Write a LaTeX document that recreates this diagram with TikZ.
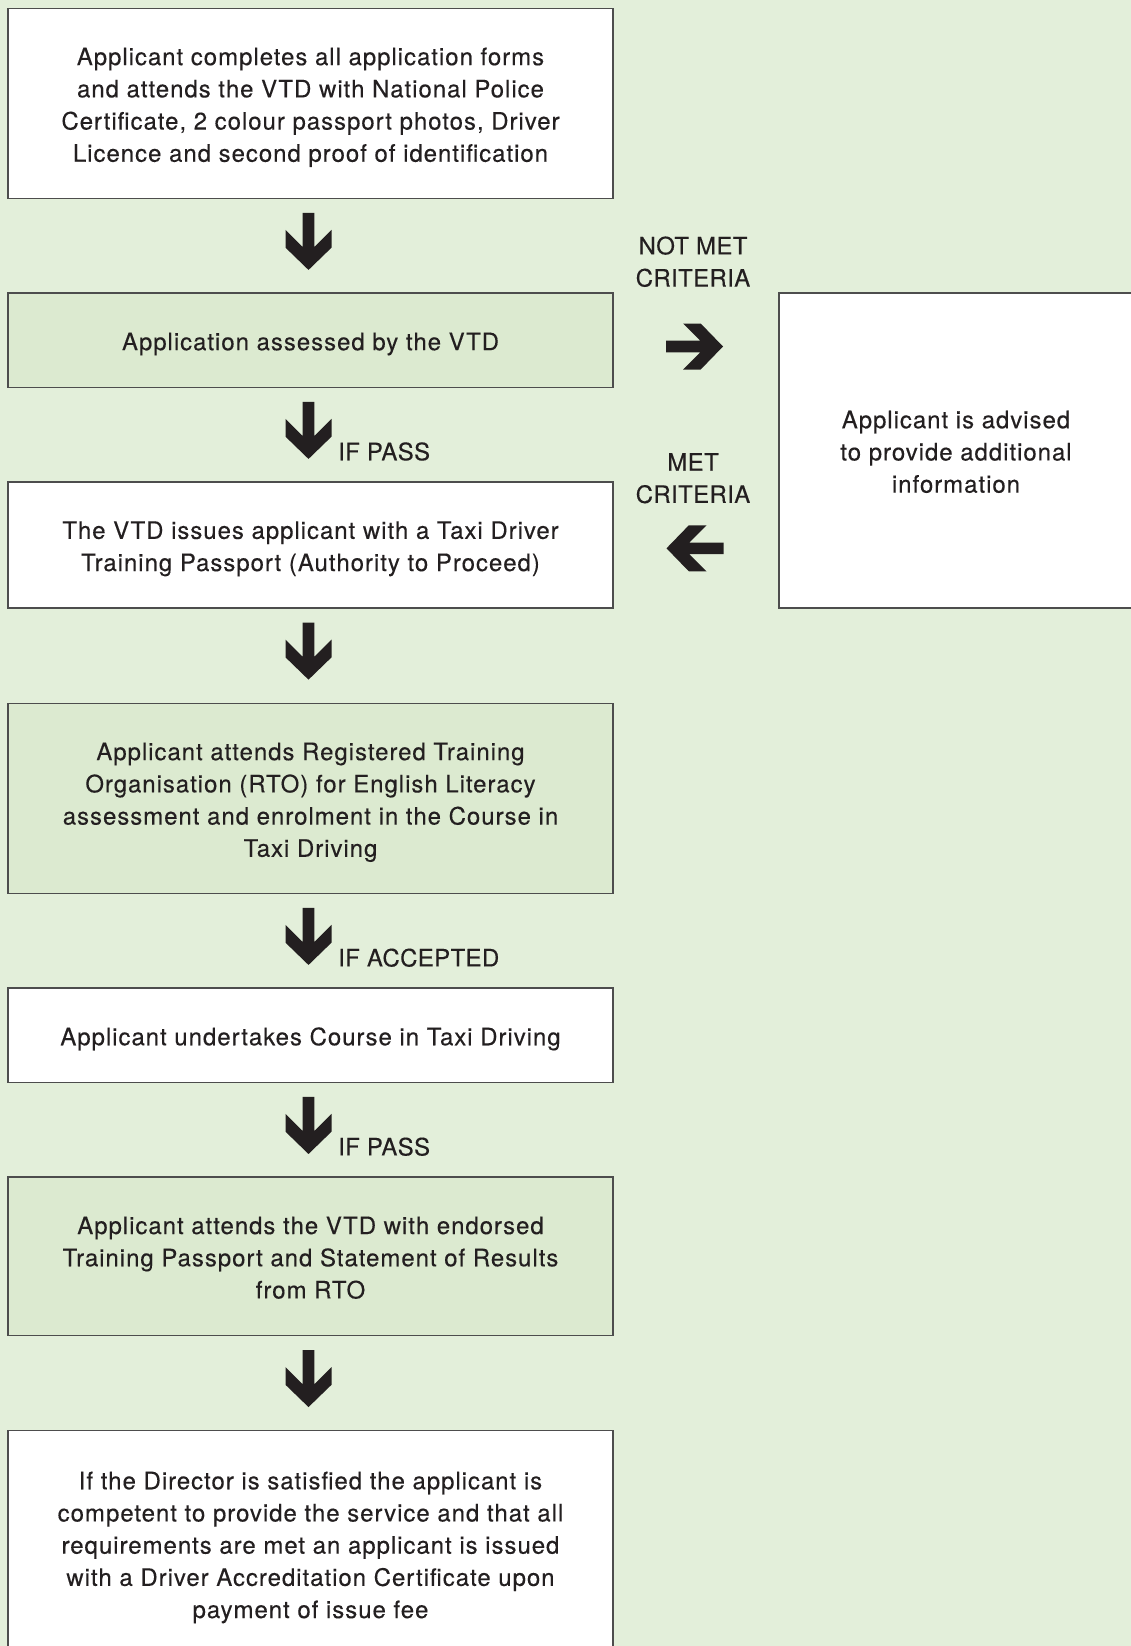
\documentclass[tikz,border=0pt]{standalone}
\usepackage{fontspec}
\setmainfont{TeX Gyre Heros}[LetterSpace=4.0,FakeBold=0.25]
\newfontfamily\lblfont{TeX Gyre Heros}[LetterSpace=1.5,FakeBold=0.25]
\usetikzlibrary{calc}
\definecolor{bgc}{RGB}{227,239,218}
\definecolor{gfill}{RGB}{220,234,208}
\definecolor{bord}{RGB}{77,77,77}
\definecolor{ink}{RGB}{35,31,32}
\newcommand\boxtext[1]{\raisebox{-3.5pt}[\height][\depth]{\begin{tabular}{@{}c@{}}#1\end{tabular}}}
\tikzset{
  box/.style={draw=bord, line width=1.4pt, fill=white, inner sep=0pt, minimum width=605pt, align=center, text=ink,
    font=\fontsize{24}{32.2}\selectfont},
  gbox/.style={box, fill=gfill},
  lbl/.style={inner sep=0pt, text=ink, align=center, font=\lblfont\fontsize{24}{32.2}\selectfont},
  darrow/.pic={\fill[ink] (-5.8,-28.5) -- (5.8,-28.5) -- (5.8,5.7) -- (23,-11.5) -- (23,6.2) -- (0,28.5) -- (-23,6.2) -- (-23,-11.5) -- (-5.8,5.7) -- cycle;}
}
\begin{document}
\begin{tikzpicture}[x=1pt,y=-1pt]
\clip (0,0) rectangle (1131,1646);
\fill[bgc] (0,0) rectangle (1131,1646);
\node[box, minimum height=190pt] (b1) at (310.5,103.5) {\boxtext{Applicant completes all application forms\\and attends the VTD with National Police\\Certificate, 2 colour passport photos, Driver\\Licence and second proof of identification}};
\node[gbox, minimum height=94.5pt] (b2) at (310.5,340.25) {\boxtext{Application assessed by the VTD}};
\node[box, minimum height=126pt] (b3) at (310.5,545) {\boxtext{The VTD issues applicant with a Taxi Driver\\Training Passport (Authority to Proceed)}};
\node[gbox, minimum height=190pt] (b4) at (310.5,798.5) {\boxtext{Applicant attends Registered Training\\Organisation (RTO) for English Literacy\\assessment and enrolment in the Course in\\Taxi Driving}};
\node[box, minimum height=94.6pt] (b5) at (310.5,1035.3) {\boxtext{Applicant undertakes Course in Taxi Driving}};
\node[gbox, minimum height=158.7pt] (b6) at (310.5,1256.3) {\boxtext{Applicant attends the VTD with endorsed\\Training Passport and Statement of Results\\from RTO}};
\node[box, minimum height=226pt] (b7) at (310.5,1543.7) {\boxtext{If the Director is satisfied the applicant is\\competent to provide the service and that all\\requirements are met an applicant is issued\\with a Driver Accreditation Certificate upon\\payment of issue fee}};
\node[box, minimum width=354pt, minimum height=315pt] (rb) at (956,450.5) {\boxtext{Applicant is advised\\to provide additional\\information}};
% vertical arrows
\pic at ($(b1.south)!0.5!(b2.north)+(-2,-4.3)$) {darrow};
\pic at ($(b2.south)!0.5!(b3.north)+(-2,-4.3)$) {darrow};
\pic at ($(b3.south)!0.5!(b4.north)+(-2,-4.6)$) {darrow};
\pic at ($(b4.south)!0.5!(b5.north)+(-2,-4.3)$) {darrow};
\pic at ($(b5.south)!0.5!(b6.north)+(-2,-4.3)$) {darrow};
\pic at ($(b6.south)!0.5!(b7.north)+(-2,-4.6)$) {darrow};
% horizontal arrows
\pic[rotate=90] at ($(b2.east)!0.5!(b2.east -| rb.west)+(-1.5,6.25)$) {darrow};
\pic[rotate=-90] at ($(b3.east)!0.5!(b3.east -| rb.west)+(-1,3.3)$) {darrow};
% labels
\node[lbl] (l1) at (693,261.7) {NOT MET\\CRITERIA};
\node[lbl] (l2) at (693,478.3) {MET\\CRITERIA};
\node[lbl, anchor=west] (l3) at (338,451.5) {IF PASS};
\node[lbl, anchor=west] (l4) at (338,957.7) {IF ACCEPTED};
\node[lbl, anchor=west] (l5) at (338,1146.7) {IF PASS};
\end{tikzpicture}
\end{document}
